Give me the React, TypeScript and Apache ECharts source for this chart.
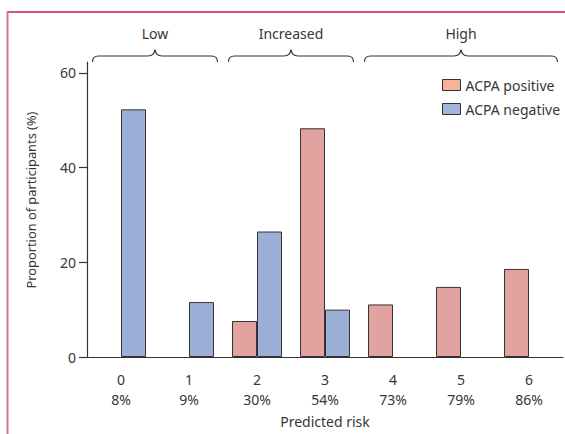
import React, { useEffect, useRef } from "react";
import * as echarts from "echarts";

const categories = ["0", "1", "2", "3", "4", "5", "6"];
const riskLabels = ["8%", "9%", "30%", "54%", "73%", "79%", "86%"];
const acpaPositive = [null, null, 7.6, 48.3, 11.1, 14.8, 18.6];
const acpaNegative = [52.3, 11.6, 26.5, 10.0, null, null, null];
const yTicks = [0, 20, 40, 60];
const groups = [
  { name: "Low", from: 0, to: 1 },
  { name: "Increased", from: 2, to: 3 },
  { name: "High", from: 4, to: 6 },
];
const yAxisTitle = "Proportion of participants (%)";

const FONT = "'Noto Sans', sans-serif";
const TXT = "#363636";
const PINK = "#e2a3a0";
const BLUE = "#9eafd7";

const GRID_L = 87;
const GRID_R = 2;
const GRID_T = 62;
const GRID_B = 77;

function bracePath(x1: number, x2: number, xm: number): string {
  const yEnd = 62;
  const yMid = 56;
  const yPeak = 49.5;
  return [
    `M ${x1} ${yEnd}`,
    `Q ${x1} ${yMid} ${x1 + 6} ${yMid}`,
    `L ${xm - 7} ${yMid}`,
    `Q ${xm - 1} ${yMid} ${xm} ${yPeak}`,
    `Q ${xm + 1} ${yMid} ${xm + 7} ${yMid}`,
    `L ${x2 - 6} ${yMid}`,
    `Q ${x2} ${yMid} ${x2} ${yEnd}`,
  ].join(" ");
}

export default function App() {
  const ref = useRef<HTMLDivElement>(null);
  useEffect(() => {
    if (!ref.current) return;
    const chart = echarts.init(ref.current, undefined, { renderer: "svg" });
    const width = 565;
    const catW = (width - GRID_L - GRID_R) / categories.length;

    const graphics: any[] = [
      {
        type: "line",
        shape: { x1: 7, y1: 12, x2: 565, y2: 12 },
        style: { stroke: "#c8184c", lineWidth: 1.5 },
      },
      {
        type: "line",
        shape: { x1: 7.5, y1: 12, x2: 7.5, y2: 434 },
        style: { stroke: "#d97797", lineWidth: 2 },
      },
      {
        type: "text",
        x: 31,
        y: 200,
        rotation: Math.PI / 2,
        style: {
          text: yAxisTitle,
          fill: TXT,
          font: `12.8px ${FONT}`,
          align: "center",
          verticalAlign: "middle",
        },
      },
    ];
    groups.forEach((g, i) => {
      const x1 = GRID_L + g.from * catW + 5.5;
      const x2 = GRID_L + (g.to + 1) * catW - 5.5;
      const xm = (x1 + x2) / 2;
      const name = "brace" + i;
      echarts.graphic.registerShape(
        name,
        echarts.graphic.extendPath(bracePath(x1, x2, xm), {})
      );
      graphics.push({
        type: name,
        x: 0,
        y: 0,
        style: { fill: "none", stroke: "#333", lineWidth: 1.2 },
      });
      graphics.push({
        type: "text",
        x: xm,
        y: 33,
        style: {
          text: g.name,
          fill: TXT,
          font: `14px ${FONT}`,
          align: "center",
          verticalAlign: "middle",
        },
      });
    });

    chart.setOption({
      animation: false,
      textStyle: { fontFamily: FONT },
      grid: { left: GRID_L, right: GRID_R, top: GRID_T, bottom: GRID_B },
      legend: {
        left: 442,
        top: 78,
        padding: 0,
        orient: "vertical",
        icon: "rect",
        itemWidth: 18,
        itemHeight: 11,
        itemGap: 10,
        textStyle: { color: TXT, fontSize: 14, lineHeight: 11, fontFamily: FONT },
        data: [
          { name: "ACPA positive", itemStyle: { color: "#f7b29d", borderColor: "#333", borderWidth: 1 } },
          { name: "ACPA negative", itemStyle: { color: "#a5b4dc", borderColor: "#333", borderWidth: 1 } },
        ],
      },
      xAxis: {
        type: "category",
        data: categories,
        name: "Predicted risk",
        nameLocation: "middle",
        nameGap: 57,
        nameTextStyle: { color: TXT, fontSize: 14, fontFamily: FONT },
        axisLine: { lineStyle: { color: "#333", width: 1.2 } },
        axisTick: { length: 8, lineStyle: { color: "#333", width: 1.2 } },
        axisLabel: {
          color: TXT,
          fontSize: 14,
          lineHeight: 20,
          margin: 12,
          fontFamily: FONT,
          formatter: (v: string, i: number) => `${v}\n${riskLabels[i]}`,
        },
      },
      yAxis: {
        type: "value",
        min: 0,
        max: 62.3,
        splitLine: { show: false },
        axisLine: { show: true, lineStyle: { color: "#333", width: 1.2 } },
        axisTick: { show: true, length: 8, customValues: yTicks, lineStyle: { color: "#333", width: 1.2 } },
        axisLabel: { color: TXT, fontSize: 14, margin: 11, customValues: yTicks, fontFamily: FONT },
      },
      series: [
        {
          name: "ACPA positive",
          type: "bar",
          data: acpaPositive,
          barWidth: 25,
          barGap: "0%",
          itemStyle: { color: PINK, borderColor: "#333", borderWidth: 1 },
        },
        {
          name: "ACPA negative",
          type: "bar",
          data: acpaNegative,
          barWidth: 25,
          barGap: "0%",
          itemStyle: { color: BLUE, borderColor: "#333", borderWidth: 1 },
        },
      ],
      graphic: graphics,
    });
    return () => chart.dispose();
  }, []);
  return <div ref={ref} style={{ width: 565, height: 434, position: "absolute", left: 0, top: 0 }} />;
}
